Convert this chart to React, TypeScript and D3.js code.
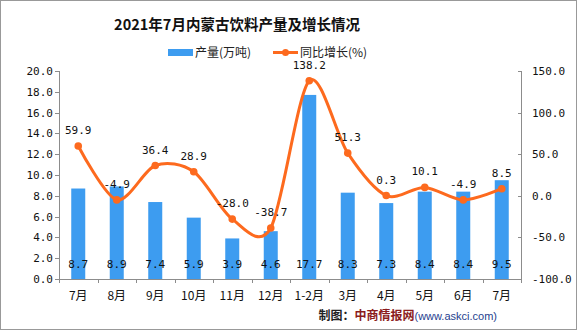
import React from "react";
import * as d3 from "d3";

const categories = ["7月", "8月", "9月", "10月", "11月", "12月", "1-2月", "3月", "4月", "5月", "6月", "7月"];
const production = [8.7, 8.9, 7.4, 5.9, 3.9, 4.6, 17.7, 8.3, 7.3, 8.4, 8.4, 9.5];
const growth = [59.9, -4.9, 36.4, 28.9, -28.0, -38.7, 138.2, 51.3, 0.3, 10.1, -4.9, 8.5];
const leftTicks = [0, 2, 4, 6, 8, 10, 12, 14, 16, 18, 20];
const rightTicks = [-100, -50, 0, 50, 100, 150];

const W = 577, H = 330;
const L = 59, R = 521, T = 71, B = 279;
const BAR = "#3d9cf0";
const LINE = "#fd6a1e";
const AXIS = "#8c8c8c";
const mono = "'DejaVu Sans Mono', monospace";
const cjk = "'Noto Sans CJK SC', sans-serif";

export default function App() {
  const x = d3.scaleBand<number>().domain(d3.range(categories.length)).range([L, R]);
  const yL = d3.scaleLinear().domain([0, 20]).range([B, T]);
  const yR = d3.scaleLinear().domain([-100, 150]).range([B, T]);
  const cx = (i: number) => (x(i) as number) + x.bandwidth() / 2;
  const line = d3.line<number>().x((_, i) => cx(i)).y((d) => yR(d)).curve(d3.curveCardinal.tension(0.1));
  const bw = 14;
  return (
    <svg width={W} height={H} style={{ position: "absolute", left: 0, top: 0, background: "#fff" }}>
      <rect x={0.5} y={0.5} width={W - 1} height={H - 1} fill="#fff" stroke="#999" />
      <text x={237} y={30} textAnchor="middle" fontFamily={cjk} fontWeight="bold" fontSize={14.5} fill="#111">
        2021年7月内蒙古饮料产量及增长情况
      </text>
      {/* legend */}
      <rect x={168} y={49} width={25} height={7} fill={BAR} />
      <text x={195} y={57} fontFamily={cjk} fontSize={12} fill="#222">产量(万吨)</text>
      <line x1={273} x2={298} y1={52.5} y2={52.5} stroke={LINE} strokeWidth={3} />
      <circle cx={285.5} cy={52.5} r={3.5} fill={LINE} />
      <text x={300} y={57} fontFamily={cjk} fontSize={12} fill="#222">同比增长(%)</text>

      {/* bars */}
      {production.map((v, i) => (
        <rect key={"b" + i} x={cx(i) - bw / 2} y={yL(v)} width={bw} height={B - yL(v)} fill={BAR} />
      ))}
      {/* axes */}
      <line x1={L + 0.5} x2={L + 0.5} y1={T} y2={B} stroke={AXIS} />
      <line x1={R + 0.5} x2={R + 0.5} y1={T} y2={B} stroke={AXIS} />
      <line x1={L} x2={R + 1} y1={B + 0.5} y2={B + 0.5} stroke={AXIS} />
      {leftTicks.map((t) => (
        <g key={"l" + t}>
          <line x1={L - 4} x2={L} y1={Math.round(yL(t)) + 0.5} y2={Math.round(yL(t)) + 0.5} stroke={AXIS} />
          <text x={L - 6} y={yL(t) + 4} textAnchor="end" fontFamily={mono} fontSize={11} fill="#111">{t.toFixed(1)}</text>
        </g>
      ))}
      {rightTicks.map((t) => (
        <g key={"r" + t}>
          <line x1={R - 3} x2={R + 1} y1={Math.round(yR(t)) + 0.5} y2={Math.round(yR(t)) + 0.5} stroke={AXIS} />
          <text x={R + 11} y={yR(t) + 4} textAnchor="start" fontFamily={mono} fontSize={11} fill="#111">{t.toFixed(1)}</text>
        </g>
      ))}
      {d3.range(categories.length + 1).map((i) => {
        const xx = Math.round(L + i * x.step()) + 0.5;
        return <line key={"xt" + i} x1={xx} x2={xx} y1={B} y2={B + 4} stroke={AXIS} />;
      })}
      {categories.map((c, i) => (
        <text key={"xl" + i} x={cx(i)} y={300} textAnchor="middle" fontFamily={cjk} fontSize={12} fill="#111">{c}</text>
      ))}
      {/* bar labels */}
      {production.map((v, i) => (
        <text key={"bl" + i} x={cx(i)} y={268} textAnchor="middle" fontFamily={mono} fontSize={11} fill="#111">{v.toFixed(1)}</text>
      ))}
      {/* line */}
      <path d={line(growth) || ""} fill="none" stroke={LINE} strokeWidth={3} />
      {growth.map((v, i) => (
        <circle key={"c" + i} cx={cx(i)} cy={yR(v)} r={3.8} fill={LINE} />
      ))}
      {growth.map((v, i) => (
        <text key={"gl" + i} x={cx(i)} y={yR(v) - 12} textAnchor="middle" fontFamily={mono} fontSize={11} fill="#111">{v.toFixed(1)}</text>
      ))}
      {/* footer */}
      <text x={497} y={320} textAnchor="end" fontSize={12}>
        <tspan fontFamily={cjk} fontWeight="bold" fill="#222">制图：</tspan>
        <tspan fontFamily={cjk} fontWeight="bold" fill="#8b1c1c">中商情报网</tspan>
        <tspan fontFamily="'Liberation Sans', Arial, sans-serif" fontSize={11} fill="#1f3f8f">(www.askci.com)</tspan>
      </text>
    </svg>
  );
}
